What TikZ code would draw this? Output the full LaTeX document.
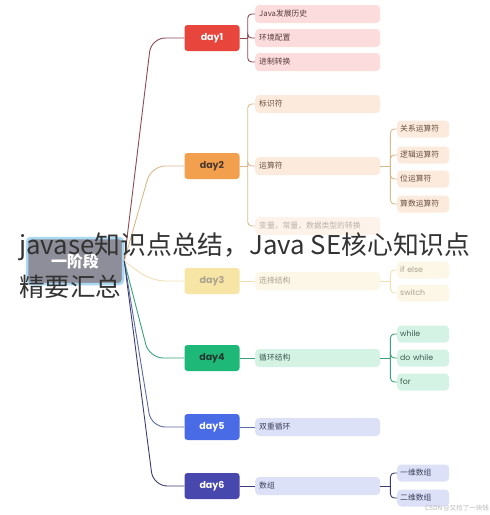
\documentclass[tikz,border=0pt]{standalone}
\usepackage{fontspec}
\setmainfont{Noto Sans CJK SC}
\newfontfamily\latin{Poppins}
\usetikzlibrary{calc}

% node colours
\definecolor{rootF}{HTML}{8E8E9A}
\definecolor{rootB}{HTML}{A9D8F2}
\definecolor{redD}{HTML}{E8463C}
\definecolor{orgD}{HTML}{F2A04E}
\definecolor{yelD}{HTML}{F7E5A6}
\definecolor{grnD}{HTML}{1EB878}
\definecolor{bluD}{HTML}{4A6BE6}
\definecolor{indD}{HTML}{4747AE}
% branch fills
\definecolor{redC}{HTML}{FCDCDC}
\definecolor{orgC}{HTML}{FCEBDD}
\definecolor{yelC}{HTML}{FDF7E8}
\definecolor{grnC}{HTML}{D5F3E5}
\definecolor{bluC}{HTML}{DDE1F7}
% lines and texts
\definecolor{redL}{HTML}{8C4A55}
\definecolor{orgL}{HTML}{D9BA8E}
\definecolor{yelL}{HTML}{F0E0B4}
\definecolor{grnL}{HTML}{3AA37A}
\definecolor{bluL}{HTML}{5C6AA6}
\definecolor{indL}{HTML}{3C3C74}
\definecolor{redT}{HTML}{5A3C3C}
\definecolor{orgT}{HTML}{6A5040}
\definecolor{yelT}{HTML}{ABA28E}
\definecolor{grnT}{HTML}{3E5A50}
\definecolor{bluT}{HTML}{3E405E}

\begin{document}
\begin{tikzpicture}[x=1pt,y=-1pt,
  day/.style={rounded corners=3pt,minimum width=55pt,minimum height=26pt,inner sep=0pt,
    font=\latin\bfseries\fontsize{9.5}{9.5}\selectfont},
  sub/.style={anchor=west,rounded corners=4pt,text width=117pt,inner xsep=4pt,inner ysep=0pt,
    minimum height=18pt,font=\fontsize{7.8}{8.5}\selectfont},
  leaf/.style={anchor=west,rounded corners=4pt,text width=46pt,inner xsep=3pt,inner ysep=0pt,
    minimum height=17pt,font=\fontsize{7.8}{8.5}\selectfont},
  latinleaf/.style={leaf,font=\latin\fontsize{7.8}{8.5}\selectfont},
  trunk/.style={line width=0.9pt,rounded corners=14pt},
  twig/.style={line width=0.9pt,rounded corners=4pt}]

  \useasboundingbox[fill=white] (0,0) rectangle (490,515);

  % root
  \node[draw=rootB,line width=2.5pt,fill=rootF,rounded corners=4pt,minimum width=96pt,
    minimum height=46pt,text=white,font=\bfseries\fontsize{16}{16}\selectfont] (root) at (75,261) {一阶段};

  % days
  \node[day,fill=redD,text=white] (d1) at (212,38) {day1};
  \node[day,fill=orgD,text=orgT!70!black] (d2) at (212,166) {day2};
  \node[day,fill=yelD,text=yelT] (d3) at (212,281) {day3};
  \node[day,fill=grnD,text=grnT!60!black] (d4) at (212,358) {day4};
  \node[day,fill=bluD,text=white] (d5) at (212,427) {day5};
  \node[day,fill=indD,text=white] (d6) at (212,486) {day6};

  \draw[trunk,redL] (root.east) -- ([xshift=-33pt]d1.west) -- (d1.west);
  \draw[trunk,orgL] (root.east) -- ([xshift=-33pt]d2.west) -- (d2.west);
  \draw[trunk,yelL] (root.east) -- ([xshift=-33pt]d3.west) -- (d3.west);
  \draw[trunk,grnL] (root.east) -- ([xshift=-35pt]d4.west) -- (d4.west);
  \draw[trunk,bluL] (root.east) -- ([xshift=-33pt]d5.west) -- (d5.west);
  \draw[trunk,indL] (root.east) -- ([xshift=-31pt]d6.west) -- (d6.west);

  % day1
  \node[sub,fill=redC,text=redT] (hist) at (255,14) {Java发展历史};
  \node[sub,fill=redC,text=redT] (env) at (255,38) {环境配置};
  \node[sub,fill=redC,text=redT] (base) at (255,62) {进制转换};
  \draw[twig,redL] (d1.east) -- ++(8,0) coordinate (b1);
  \foreach \n in {hist,env,base} \draw[twig,redL] (b1) |- (\n.west);

  % day2
  \node[sub,fill=orgC,text=orgT] (ident) at (255,104) {标识符};
  \node[sub,fill=orgC,text=orgT] (oper) at (255,166) {运算符};
  \node[sub,fill=orgC!60,text=orgT!45] (conv) at (255,226) {变量，常量，数据类型的转换};
  \draw[twig,orgL] (d2.east) -- ++(8,0) coordinate (b2);
  \foreach \n in {ident,oper,conv} \draw[twig,orgL] (b2) |- (\n.west);

  \node[leaf,fill=orgC,text=orgT] (rel) at (397,129) {关系运算符};
  \node[leaf,fill=orgC,text=orgT] (logic) at (397,155) {逻辑运算符};
  \node[leaf,fill=orgC,text=orgT] (bit) at (397,179) {位运算符};
  \node[leaf,fill=orgC,text=orgT] (arith) at (397,204) {算数运算符};
  \draw[twig,orgL] (oper.east) -- ++(10,0) coordinate (b2o);
  \foreach \n in {rel,logic,bit,arith} \draw[twig,orgL] (b2o) |- (\n.west);

  % day3
  \node[sub,fill=yelC,text=yelT] (sel) at (255,281) {选择结构};
  \draw[twig,yelL] (d3.east) -- (sel.west);
  \node[latinleaf,fill=yelC,text=yelT] (ifel) at (397,270) {if else};
  \node[latinleaf,fill=yelC,text=yelT] (swch) at (397,293) {switch};
  \draw[twig,yelL] (sel.east) -- ++(10,0) coordinate (b3);
  \foreach \n in {ifel,swch} \draw[twig,yelL] (b3) |- (\n.west);

  % day4
  \node[sub,fill=grnC,text=grnT] (loop) at (255,358) {循环结构};
  \draw[twig,grnL] (d4.east) -- (loop.west);
  \node[latinleaf,fill=grnC,text=grnT] (wh) at (397,334) {while};
  \node[latinleaf,fill=grnC,text=grnT] (dowh) at (397,358) {do while};
  \node[latinleaf,fill=grnC,text=grnT] (forl) at (397,382) {for};
  \draw[twig,grnL] (loop.east) -- ++(10,0) coordinate (b4);
  \foreach \n in {wh,dowh,forl} \draw[twig,grnL] (b4) |- (\n.west);

  % day5
  \node[sub,fill=bluC,text=bluT] (dbl) at (255,427) {双重循环};
  \draw[twig,bluL] (d5.east) -- (dbl.west);

  % day6
  \node[sub,fill=bluC,text=bluT] (arr) at (255,486) {数组};
  \draw[twig,indL] (d6.east) -- (arr.west);
  \node[leaf,fill=bluC,text=bluT] (one) at (397,473) {一维数组};
  \node[leaf,fill=bluC,text=bluT] (two) at (397,498) {二维数组};
  \draw[twig,indL] (arr.east) -- ++(10,0) coordinate (b6);
  \foreach \n in {one,two} \draw[twig,indL] (b6) |- (\n.west);

  % overlay and watermark
  \node[anchor=west,inner sep=0pt,text=black!80,font=\fontsize{25.8}{26}\selectfont] (ttl) at (19,247)
    {javase知识点总结，Java SE核心知识点};
  \node[anchor=west,inner sep=0pt,text=black!80,font=\fontsize{25.5}{26}\selectfont] (ttl2) at (19,287)
    {精要汇总};
  \node[anchor=east,inner sep=1pt,text=black!28,font=\fontsize{6.5}{7}\selectfont] (mark) at (490,508)
    {CSDN @又捡了一块钱};
\end{tikzpicture}
\end{document}
